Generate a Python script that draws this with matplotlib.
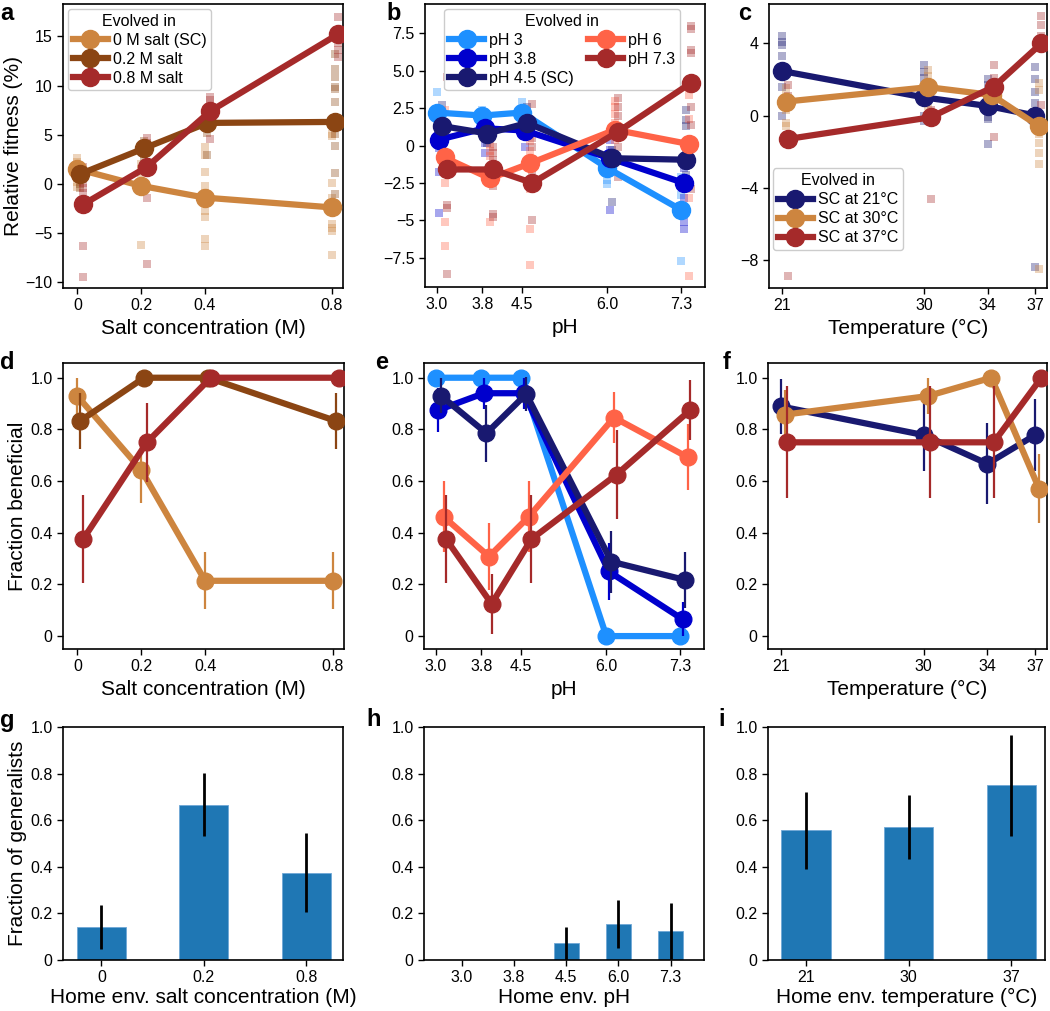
import matplotlib
matplotlib.use('Agg')
import matplotlib.pyplot as plt

plt.rcParams['font.family'] = ['Liberation Sans', 'DejaVu Sans']
plt.rcParams['axes.linewidth'] = 1.2

# ---- panel a / d / g : salt
salt_x = [0, 0.2, 0.4, 0.8]
salt_names = ['0 M salt (SC)', '0.2 M salt', '0.8 M salt']
salt_colors = ['peru', 'saddlebrown', 'brown']
salt_fit = [[1.5, -0.2, -1.4, -2.4],
            [1.0, 3.6, 6.2, 6.3],
            [-2.1, 1.7, 7.4, 15.2]]
salt_reps = [
    [[2.6, 2.2, 1.8, 1.4, 1.0, 0.6, 0.2, -0.3], [2.0, 1.5, 0.6, -0.3, -6.2],
     [3.7, 2.9, 1.2, -0.2, -0.9, -1.7, -2.8, -3.4, -5.6, -6.3], [5.1, 4.9, 0.1, -1.4, -4.1, -4.5, -4.8, -7.2]],
    [[1.6, 1.0, 0.5, 0.0, -0.4], [4.4, 4.0, 3.5, 3.0, 2.7],
     [6.8, 6.4, 5.7, 5.2, 2.9], [13.2, 11.7, 10.9, 9.9, 9.6, 8.3, 5.1, 3.9, 1.1, -1.0]],
    [[1.7, 0.1, -0.4, -0.9, -6.3, -9.5], [4.7, 4.2, 3.6, -1.4, -8.2],
     [8.8, 8.5, 8.0, 7.4, 4.6], [17.0, 15.6, 14.3, 13.6, 12.9]],
]
salt_frac = [[0.929, 0.643, 0.214, 0.214],
             [0.833, 1.0, 1.0, 0.833],
             [0.375, 0.75, 1.0, 1.0]]
salt_frac_err = [[0.069, 0.128, 0.11, 0.11],
                 [0.108, 0.0, 0.0, 0.108],
                 [0.171, 0.153, 0.0, 0.0]]
salt_gen_labels = ['0', '0.2', '0.8']
salt_gen = [0.143, 0.667, 0.375]
salt_gen_err = [0.095, 0.136, 0.171]

# ---- panel b / e / h : pH
ph_x = [3.0, 3.8, 4.5, 6.0, 7.3]
ph_names = ['pH 3', 'pH 3.8', 'pH 4.5 (SC)', 'pH 6', 'pH 7.3']
ph_colors = ['dodgerblue', 'mediumblue', 'midnightblue', 'tomato', 'brown']
ph_fit = [[2.2, 2.0, 2.2, -1.5, -4.3],
          [0.4, 1.15, 1.0, -0.85, -2.5],
          [1.3, 0.8, 1.5, -0.85, -0.95],
          [-0.8, -2.2, -1.2, 1.05, 0.1],
          [-1.6, -1.6, -2.5, 0.9, 4.2]]
ph_reps = [
    [[3.6, 2.4, 2.0, 1.5], [2.4, 2.0, 1.6], [2.9, 2.4, 1.8], [-1.0, -1.4, -2.3, -2.6], [-2.1, -3.3, -4.1, -4.6, -7.7]],
    [[1.9, 0.4, -0.2, -1.8, -4.5], [1.5, 0.8, 0.2, -0.5], [1.4, 0.8, -0.1], [0.4, -0.3, -0.7, -1.5, -4.3],
     [-1.5, -2.5, -3.5, -4.5, -5.1, -5.6]],
    [[2.7, 1.5, 1.2, 0.8], [1.2, 0.6, 0.2], [2.6, 1.9, 1.3], [-0.3, -1.0, -1.5, -3.8], [2.4, 1.7, 1.3, -0.5, -1.4, -2.0]],
    [[2.4, -0.6, -1.4, -2.5, -5.1, -6.7], [0.1, -0.4, -0.7, -2.3, -5.1], [0.3, -0.4, -1.2, -2.9, -5.6, -8.0],
     [3.0, 2.6, 2.1, 1.5, 0.8, 0.4], [3.4, 1.8, 0.2, -2.7, -3.5, -8.7]],
    [[4.6, -1.0, -1.6, -4.0, -4.2, -8.6], [-0.1, -0.5, -1.0, -2.7, -4.6, -4.8], [2.8, 0.5, -0.1, -1.8, -5.0],
     [3.2, 2.6, 2.0, 1.0, -0.1, -2.1], [8.0, 7.8, 6.4, 6.2, 3.8, 2.6, 1.4, -2.9]],
]
ph_frac = [[1.0, 1.0, 1.0, 0.0, 0.0],
           [0.875, 0.94, 0.94, 0.25, 0.065],
           [0.93, 0.785, 0.937, 0.288, 0.217],
           [0.462, 0.308, 0.462, 0.846, 0.692],
           [0.375, 0.125, 0.375, 0.625, 0.875]]
ph_frac_err = [[0.0, 0.0, 0.0, 0.0, 0.0],
               [0.085, 0.06, 0.06, 0.11, 0.065],
               [0.068, 0.11, 0.065, 0.12, 0.11],
               [0.138, 0.128, 0.138, 0.1, 0.128],
               [0.171, 0.117, 0.171, 0.171, 0.117]]
ph_gen_labels = ['3.0', '3.8', '4.5', '6.0', '7.3']
ph_gen = [0.0, 0.0, 0.071, 0.154, 0.125]
ph_gen_err = [0.0, 0.0, 0.072, 0.103, 0.12]

# ---- panel c / f / i : temperature
temp_x = [21, 30, 34, 37]
temp_names = ['SC at 21°C', 'SC at 30°C', 'SC at 37°C']
temp_colors = ['midnightblue', 'peru', 'brown']
temp_fit = [[2.47, 1.0, 0.53, 0.0],
            [0.77, 1.57, 1.14, -0.6],
            [-1.3, -0.1, 1.6, 4.0]]
temp_reps = [
    [[4.4, 4.1, 3.9, 3.3, 2.2, 1.6, 0.0], [2.8, 2.4, 2.1, 0.0, -0.3], [2.0, 1.7, -0.1, -0.2, -1.6],
     [2.7, 2.0, 1.3, 0.7, -8.4]],
    [[1.5, 1.1, 0.3, -0.4, -0.6], [2.5, 2.2, 1.7, 0.5], [1.4, 1.0, 0.3], [1.8, 1.4, -1.0, -1.5, -2.1, -2.7, -8.5]],
    [[1.7, 1.1, -8.9], [0.3, -0.2, -4.6], [2.8, 2.1, -1.2], [5.5, 5.0, 4.4, 0.6]],
]
temp_frac = [[0.889, 0.778, 0.667, 0.778],
             [0.857, 0.929, 1.0, 0.571],
             [0.75, 0.75, 0.75, 1.0]]
temp_frac_err = [[0.105, 0.139, 0.157, 0.139],
                 [0.094, 0.069, 0.0, 0.132],
                 [0.217, 0.217, 0.217, 0.0]]
temp_gen_labels = ['21', '30', '37']
temp_gen = [0.556, 0.571, 0.75]
temp_gen_err = [0.166, 0.136, 0.217]

W, H = 1050, 1011
fig = plt.figure(figsize=(W / 100, H / 100), dpi=100)


def ax_at(l, t, r, b):
    return fig.add_axes([l / W, 1 - b / H, (r - l) / W, (b - t) / H])


def style(ax):
    ax.tick_params(direction='out', length=4, width=1, labelsize=11.5)


def letter(x, y, s):
    fig.text(x / W, 1 - y / H, s, fontsize=17, fontweight='bold', ha='left', va='center')


frac_ticks = [0, 0.2, 0.4, 0.6, 0.8, 1.0]
frac_labels = ['0', '0.2', '0.4', '0.6', '0.8', '1.0']
leg_kw = dict(title='Evolved in', fontsize=11.5, title_fontsize=11.5, handlelength=2.2, labelspacing=0.25,
              handletextpad=0.3, borderpad=0.3, framealpha=1, edgecolor='#cccccc')


def fitness_panel(ax, xs, fits, reps, colors, names, offs):
    for k in range(len(fits)):
        for j, x in enumerate(xs):
            vals = reps[k][j]
            ax.scatter([x + offs[k]] * len(vals), vals, marker='s', s=26, color=colors[k],
                       alpha=0.35, lw=0, zorder=1)
    for k in range(len(fits)):
        ax.plot([x + offs[k] for x in xs], fits[k], '-o', color=colors[k], lw=4.5, ms=13,
                label=names[k], zorder=3 + k)


def frac_panel(ax, xs, fracs, errs, colors, offs):
    for k in range(len(fracs)):
        xx = [x + offs[k] for x in xs]
        ax.errorbar(xx, fracs[k], yerr=errs[k], fmt='none', ecolor=colors[k], elinewidth=1.6, zorder=2 + k)
        ax.plot(xx, fracs[k], '-o', color=colors[k], lw=4.5, ms=12, zorder=3 + k)
    ax.set_ylim(-0.05, 1.057)
    ax.set_yticks(frac_ticks)
    ax.set_yticklabels(frac_labels)


def gen_panel(ax, labels, vals, errs):
    pos = list(range(len(labels)))
    ax.bar(pos, vals, width=0.48, color='#1f77b4', edgecolor='#6fa8d6', lw=0.6)
    ax.errorbar(pos, vals, yerr=errs, fmt='none', ecolor='black', elinewidth=2)
    ax.set_xticks(pos)
    ax.set_xticklabels(labels)
    ax.set_ylim(0, 1)
    ax.set_yticks(frac_ticks)
    ax.set_yticklabels(frac_labels)


# a
ax = ax_at(63, 4, 343, 288)
fitness_panel(ax, salt_x, salt_fit, salt_reps, salt_colors, salt_names, [0, 0.009, 0.018])
ax.set_xlim(-0.045, 0.835)
ax.set_ylim(-10.6, 18.3)
ax.set_xticks(salt_x)
ax.set_xticklabels(['0', '0.2', '0.4', '0.8'])
ax.set_yticks([-10, -5, 0, 5, 10, 15])
ax.set_ylabel('Relative fitness (%)', fontsize=15, labelpad=2)
ax.set_xlabel('Salt concentration (M)', fontsize=15)
ax.legend(loc='upper left', borderaxespad=0.3, **leg_kw)
style(ax)

# b
ax = ax_at(425, 4, 705, 287)
fitness_panel(ax, ph_x, ph_fit, ph_reps, ph_colors, ph_names, [0, 0.045, 0.09, 0.135, 0.18])
ax.set_xlim(2.79, 7.72)
ax.set_ylim(-9.45, 9.45)
ax.set_xticks(ph_x)
ax.set_xticklabels(['3.0', '3.8', '4.5', '6.0', '7.3'])
ax.set_yticks([-7.5, -5, -2.5, 0, 2.5, 5, 7.5])
ax.set_yticklabels(['\u22127.5', '\u22125', '\u22122.5', '0', '2.5', '5.0', '7.5'])
ax.set_xlabel('pH', fontsize=15)
ax.legend(loc='upper center', bbox_to_anchor=(0.49, 1.0), ncol=2, borderaxespad=0.3, columnspacing=0.9,
          **leg_kw)
style(ax)

# c
ax = ax_at(769, 4, 1047, 288)
fitness_panel(ax, temp_x, temp_fit, temp_reps, temp_colors, temp_names, [0, 0.25, 0.4])
ax.set_xlim(20.2, 37.75)
ax.set_ylim(-9.56, 6.18)
ax.set_xticks(temp_x)
ax.set_yticks([-8, -4, 0, 4])
ax.set_xlabel('Temperature (°C)', fontsize=15)
ax.legend(loc='lower left', bbox_to_anchor=(0.014, 0.134), borderaxespad=0, **leg_kw)
style(ax)

# d
ax = ax_at(63, 363, 344, 649)
frac_panel(ax, salt_x, salt_frac, salt_frac_err, salt_colors, [0, 0.009, 0.018])
ax.set_xlim(-0.045, 0.835)
ax.set_xticks(salt_x)
ax.set_xticklabels(['0', '0.2', '0.4', '0.8'])
ax.set_ylabel('Fraction beneficial', fontsize=15, labelpad=2)
ax.set_xlabel('Salt concentration (M)', fontsize=15)
style(ax)

# e
ax = ax_at(424, 363, 704, 649)
frac_panel(ax, ph_x, ph_frac, ph_frac_err, ph_colors, [0, 0.045, 0.09, 0.135, 0.18])
ax.set_xlim(2.79, 7.72)
ax.set_xticks(ph_x)
ax.set_xticklabels(['3.0', '3.8', '4.5', '6.0', '7.3'])
ax.set_xlabel('pH', fontsize=15)
style(ax)

# f
ax = ax_at(768, 363, 1047, 649)
frac_panel(ax, temp_x, temp_frac, temp_frac_err, temp_colors, [0, 0.25, 0.4])
ax.set_xlim(20.2, 37.75)
ax.set_xticks(temp_x)
ax.set_xlabel('Temperature (°C)', fontsize=15)
style(ax)

# g
ax = ax_at(63, 727, 343, 960)
gen_panel(ax, salt_gen_labels, salt_gen, salt_gen_err)
ax.set_xlim(-0.375, 2.36)
ax.set_ylabel('Fraction of generalists', fontsize=15, labelpad=2)
ax.set_xlabel('Home env. salt concentration (M)', fontsize=15, labelpad=2)
style(ax)

# h
ax = ax_at(424, 727, 704, 960)
gen_panel(ax, ph_gen_labels, ph_gen, ph_gen_err)
ax.set_xlim(-0.72, 4.64)
ax.set_xlabel('Home env. pH', fontsize=15, labelpad=2)
style(ax)

# i
ax = ax_at(768, 727, 1045, 960)
gen_panel(ax, temp_gen_labels, temp_gen, temp_gen_err)
ax.set_xlim(-0.37, 2.33)
ax.set_xlabel('Home env. temperature (°C)', fontsize=15, labelpad=2)
style(ax)

letter(0, 14, 'a')
letter(386, 14, 'b')
letter(738, 14, 'c')
letter(0, 362, 'd')
letter(375, 362, 'e')
letter(723, 362, 'f')
letter(0, 720, 'g')
letter(366, 720, 'h')
letter(718, 720, 'i')

fig.savefig('out.png', dpi=100)
